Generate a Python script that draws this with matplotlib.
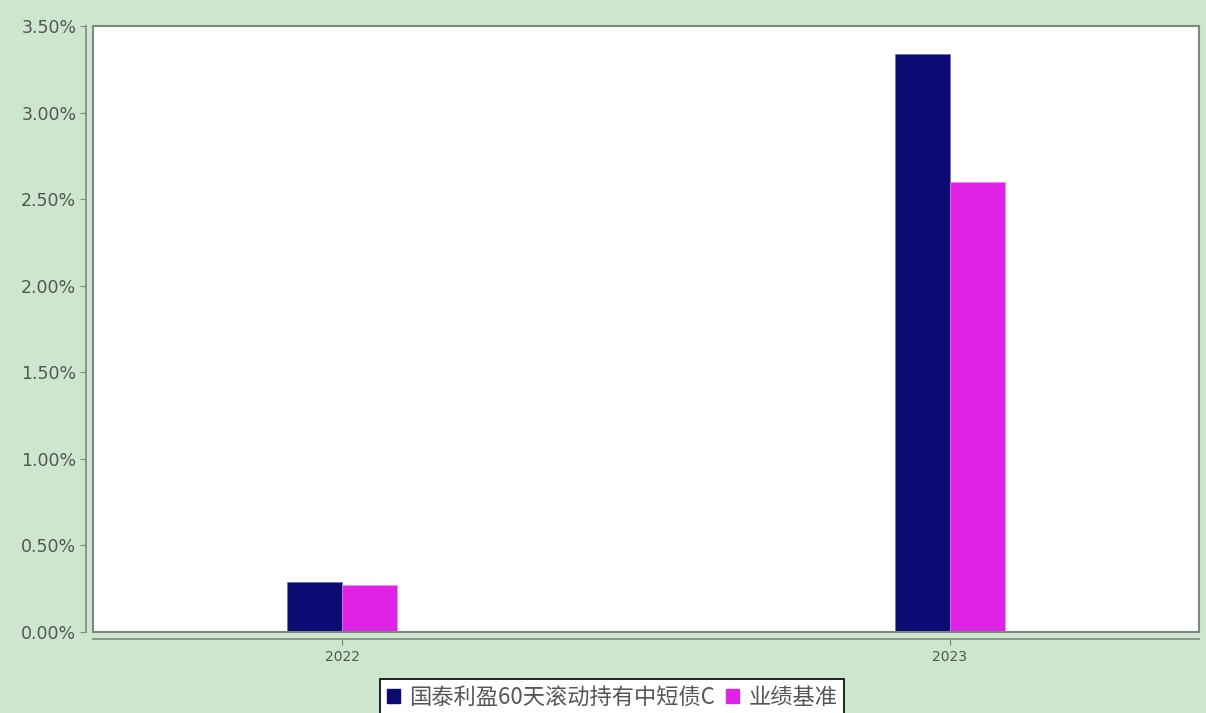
import numpy as np
import matplotlib
matplotlib.use("Agg")
import matplotlib.pyplot as plt
from matplotlib.patches import Rectangle, Patch
from matplotlib.ticker import FuncFormatter, MultipleLocator

plt.rcParams['font.family'] = ['Noto Sans CJK SC', 'DejaVu Sans']

# Data (percent)
years = ["2022", "2023"]
fund_name = "国泰利盈60天滚动持有中短债C"
bench_name = "业绩基准"
fund_returns = [0.29, 3.34]
bench_returns = [0.27, 2.60]

bg = "#cde7cf"
line_col = "#7d887e"
text_col = "#555555"

fig = plt.figure(figsize=(12.06, 7.13), dpi=100, facecolor=bg)
ax = fig.add_axes([93 / 1206, 1 - 632 / 713, 1106 / 1206, 606 / 713])
ax.set_facecolor("white")

x = np.arange(len(years))
width = 0.09
ax.bar(x - width / 2, fund_returns, width, color="#0c0a73",
       edgecolor="#6a6aa8", linewidth=0.4, label=fund_name)
ax.bar(x + width / 2, bench_returns, width, color="#e022e6",
       edgecolor="#ee88f0", linewidth=0.4, label=bench_name)

ax.set_xlim(-0.41, 1.41)
ax.set_ylim(0, 3.5)
ax.yaxis.set_major_locator(MultipleLocator(0.5))
ax.yaxis.set_major_formatter(FuncFormatter(lambda v, p: f"{v:.2f}%"))
ax.set_xticks(x)
ax.set_xticklabels(years)

# axis lines offset from the plot border
for side in ("left", "bottom"):
    ax.spines[side].set_position(("outward", 5))
    ax.spines[side].set_color(line_col)
    ax.spines[side].set_linewidth(1.2)
for side in ("top", "right"):
    ax.spines[side].set_visible(False)
ax.add_patch(Rectangle((0, 0), 1, 1, transform=ax.transAxes, fill=False,
                       edgecolor=line_col, linewidth=1.5, clip_on=False, zorder=5))

ax.tick_params(axis="y", colors=line_col, labelcolor=text_col, length=4,
               labelsize=12.5, pad=3)
ax.tick_params(axis="x", colors=line_col, labelcolor=text_col, length=4,
               labelsize=10, pad=4)
for lab in ax.get_yticklabels() + ax.get_xticklabels():
    lab.set_family("DejaVu Sans")

handles = [Patch(facecolor="#0c0a73", edgecolor="#0c0a73"),
           Patch(facecolor="#e022e6", edgecolor="#e022e6")]
leg = fig.legend(handles, [fund_name, bench_name], loc="upper center",
                 bbox_to_anchor=(612 / 1206, 1 - 679 / 713), ncol=2,
                 fontsize=16, frameon=True, fancybox=False, framealpha=1,
                 handlelength=0.6, handleheight=0.6, handletextpad=0.4,
                 columnspacing=0.5, borderpad=0.3, borderaxespad=0)
leg.get_frame().set_edgecolor("black")
leg.get_frame().set_facecolor("white")
leg.get_frame().set_linewidth(1.2)
for t in leg.get_texts():
    t.set_color("#555555")

fig.savefig("out.png", dpi=100, facecolor=bg)
